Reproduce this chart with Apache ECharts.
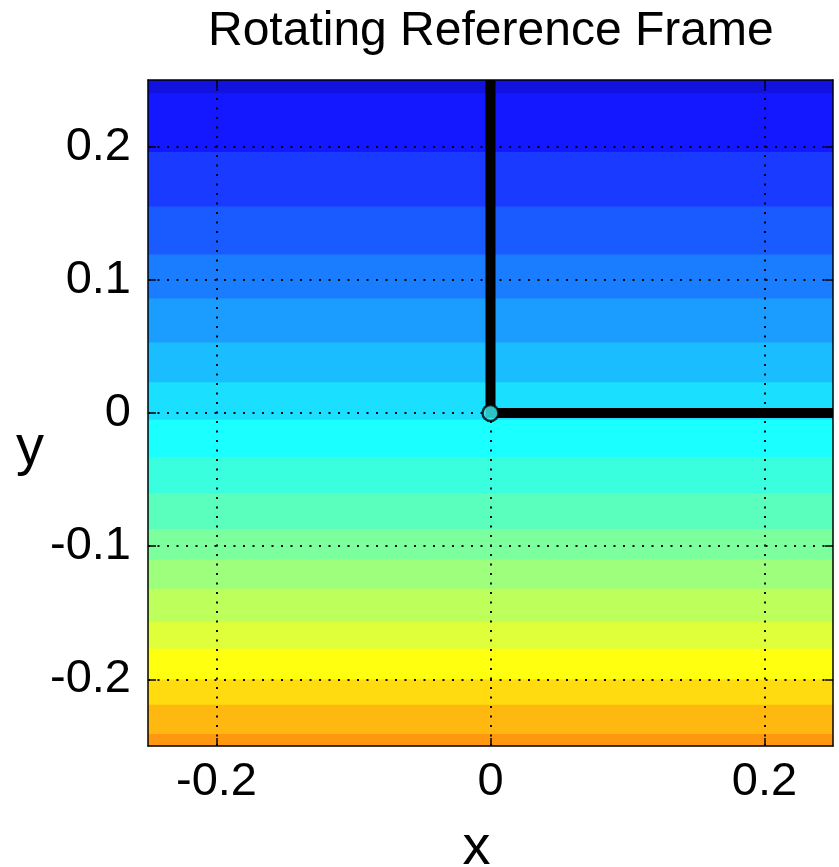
<!DOCTYPE html>
<html>
<head>
<meta charset="utf-8">
<script src="https://cdn.jsdelivr.net/npm/echarts@6/dist/echarts.min.js"></script>
<style>
  html, body { margin: 0; padding: 0; background: #fff; }
  #chart { width: 839px; height: 867px; }
</style>
</head>
<body>
<div id="chart"></div>
<script>
// Visible window of the rotating frame
const xRange = [-0.25, 0.25];
const yRange = [-0.25, 0.25];

// Tick positions and labels
const xTicks = [-0.2, 0, 0.2];
const yTicks = [-0.2, -0.1, 0, 0.1, 0.2];

// Filled-contour band edges (y), top to bottom; the field only varies with y here
const bandEdges = [0.30, 0.240, 0.196, 0.155, 0.119, 0.086, 0.053, 0.023, -0.005,
                   -0.033, -0.060, -0.087, -0.110, -0.132, -0.157, -0.177, -0.200,
                   -0.219, -0.241, -0.30];

// Jet colormap entries for each band (slightly softened)
const bandColors = ['#1212df', '#1418ff', '#1a3aff', '#1a5bff', '#1a7cff', '#1a9dff',
                    '#1abdff', '#1adfff', '#1affff', '#3affdf', '#5bffbd', '#7cff9d',
                    '#9dff7c', '#bdff5b', '#dfff3a', '#ffff10', '#ffdb10', '#ffb810',
                    '#ff9810'];

// Frame arms (L shape) and pivot
const armX = [0, 0, 0.25];
const armY = [0.25, 0, 0];
const pivot = [0, 0];

const bands = [];
for (let i = 0; i < bandColors.length; i++) {
  bands.push([bandEdges[i], bandEdges[i + 1]]);
}

const fontFam = '"Liberation Sans", Arial, Helvetica, sans-serif';
const tickLabelStyle = { color: '#000', fontSize: 47, fontFamily: fontFam };

const chart = echarts.init(document.getElementById('chart'), null, { renderer: 'canvas' });

chart.setOption({
  backgroundColor: '#fff',
  animation: false,
  title: {
    text: 'Rotating Reference Frame',
    left: 208,
    top: 8,
    padding: 0,
    textStyle: { color: '#000', fontSize: 48, fontWeight: 'normal', fontFamily: fontFam }
  },
  grid: { left: 148, right: 6, top: 80, bottom: 121, containLabel: false, outerBoundsMode: 'none' },
  xAxis: [
    {
      type: 'value', min: xRange[0], max: xRange[1], position: 'bottom', z: 10,
      name: 'x', nameLocation: 'middle', nameGap: 75,
      nameTextStyle: { color: '#000', fontSize: 56, fontFamily: fontFam, padding: [0, 28, 0, 0] },
      axisLine: { show: true, onZero: false, lineStyle: { color: '#000', width: 1.5 } },
      axisTick: { show: true, inside: true, length: 8, customValues: xTicks, lineStyle: { color: '#000', width: 1.5 } },
      axisLabel: { show: true, margin: 13, customValues: xTicks, formatter: v => String(v), ...tickLabelStyle },
      splitLine: { show: false }
    },
    {
      type: 'value', min: xRange[0], max: xRange[1], position: 'top', z: 10,
      axisLine: { show: true, onZero: false, lineStyle: { color: '#000', width: 1.5 } },
      axisTick: { show: true, inside: true, length: 8, customValues: xTicks, lineStyle: { color: '#000', width: 1.5 } },
      axisLabel: { show: false },
      splitLine: { show: false }
    }
  ],
  yAxis: [
    {
      type: 'value', min: yRange[0], max: yRange[1], position: 'left', z: 10,
      name: 'y', nameLocation: 'middle', nameGap: 100, nameRotate: 0,
      nameTextStyle: { color: '#000', fontSize: 56, lineHeight: 72, fontFamily: fontFam, verticalAlign: 'top' },
      axisLine: { show: true, onZero: false, lineStyle: { color: '#000', width: 1.5 } },
      axisTick: { show: true, inside: true, length: 8, customValues: yTicks, lineStyle: { color: '#000', width: 1.5 } },
      axisLabel: { show: true, margin: 17, customValues: yTicks, formatter: v => String(v), ...tickLabelStyle },
      splitLine: { show: false }
    },
    {
      type: 'value', min: yRange[0], max: yRange[1], position: 'right', z: 10,
      axisLine: { show: true, onZero: false, lineStyle: { color: '#000', width: 1.5 } },
      axisTick: { show: true, inside: true, length: 8, customValues: yTicks, lineStyle: { color: '#000', width: 1.5 } },
      axisLabel: { show: false },
      splitLine: { show: false }
    }
  ],
  series: [
    {
      // contour bands
      type: 'custom',
      z: 1,
      silent: true,
      clip: true,
      data: bands,
      encode: { y: [0, 1] },
      renderItem: function (params, api) {
        const p0 = api.coord([xRange[0], api.value(0)]);
        const p1 = api.coord([xRange[1], api.value(1)]);
        const cs = params.coordSys;
        const rect = echarts.graphic.clipRectByRect(
          { x: p0[0], y: p0[1], width: p1[0] - p0[0], height: p1[1] - p0[1] + 1 },
          { x: cs.x, y: cs.y, width: cs.width, height: cs.height }
        );
        if (!rect) return;
        return { type: 'rect', shape: rect, style: { fill: bandColors[params.dataIndex] } };
      }
    },
    {
      // frame arms
      type: 'line',
      z: 3,
      silent: true,
      clip: true,
      symbol: 'none',
      data: armX.map((x, i) => [x, armY[i]]),
      lineStyle: { color: '#000', width: 10, cap: 'butt', join: 'miter' }
    },
    {
      // pivot marker plus dotted grid on top
      type: 'scatter',
      z: 5,
      silent: true,
      symbol: 'circle',
      symbolSize: 16,
      data: [pivot],
      itemStyle: { color: '#38f4f8', borderColor: '#000', borderWidth: 2.5 },
      markLine: {
        silent: true,
        symbol: 'none',
        label: { show: false },
        lineStyle: { color: '#000', width: 2, type: [2, 7.5], opacity: 0.95 },
        data: xTicks.map(v => ({ xAxis: v })).concat(yTicks.map(v => ({ yAxis: v })))
      }
    }
  ]
});
</script>
</body>
</html>
